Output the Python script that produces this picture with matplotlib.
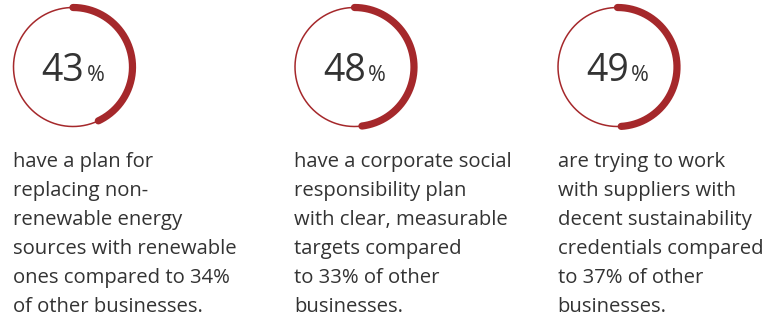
import numpy as np
import matplotlib.pyplot as plt

values = [43, 48, 49]
captions = [
    ["have a plan for", "replacing non-", "renewable energy",
     "sources with renewable", "ones compared to 34%", "of other businesses."],
    ["have a corporate social", "responsibility plan", "with clear, measurable",
     "targets compared", "to 33% of other", "businesses."],
    ["are trying to work", "with suppliers with", "decent sustainability",
     "credentials compared", "to 37% of other", "businesses."],
]
centers = [73, 354.5, 617.5]

red = "#a5282b"
ink = "#333333"
font = "Open Sans"

W, H = 769, 316
fig = plt.figure(figsize=(W / 100, H / 100), dpi=100)
ax = fig.add_axes([0, 0, 1, 1])
ax.set_xlim(0, W)
ax.set_ylim(H, 0)
ax.axis("off")

cy, r = 67, 59.5
renderer = fig.canvas.get_renderer()

for cx, val, cap in zip(centers, values, captions):
    # thin full ring + thick arc for the share, clockwise from 12 o'clock
    t = np.linspace(0, 2 * np.pi, 400)
    ax.plot(cx + r * np.sin(t), cy - r * np.cos(t), color=red, lw=1.1)
    t = np.linspace(0, val / 100 * 2 * np.pi, 300)
    ax.plot(cx + r * np.sin(t), cy - r * np.cos(t), color=red, lw=5.2,
            solid_capstyle="round")

    num = ax.text(0, 81, str(val), fontsize=27, color=ink, family=font,
                  ha="left", va="baseline")
    pct = ax.text(0, 81, "%", fontsize=15.5, color=ink, family=font,
                  ha="left", va="baseline")
    w1 = num.get_window_extent(renderer).width
    w2 = pct.get_window_extent(renderer).width
    gap = 2
    x0 = cx - (w1 + gap + w2) / 2
    num.set_x(x0)
    pct.set_x(x0 + w1 + gap)

    for i, line in enumerate(cap):
        ax.text(cx - 60, 167 + i * 29.1, line, fontsize=14.6, color=ink,
                family=font, ha="left", va="baseline")

fig.savefig("out.png", dpi=100)
